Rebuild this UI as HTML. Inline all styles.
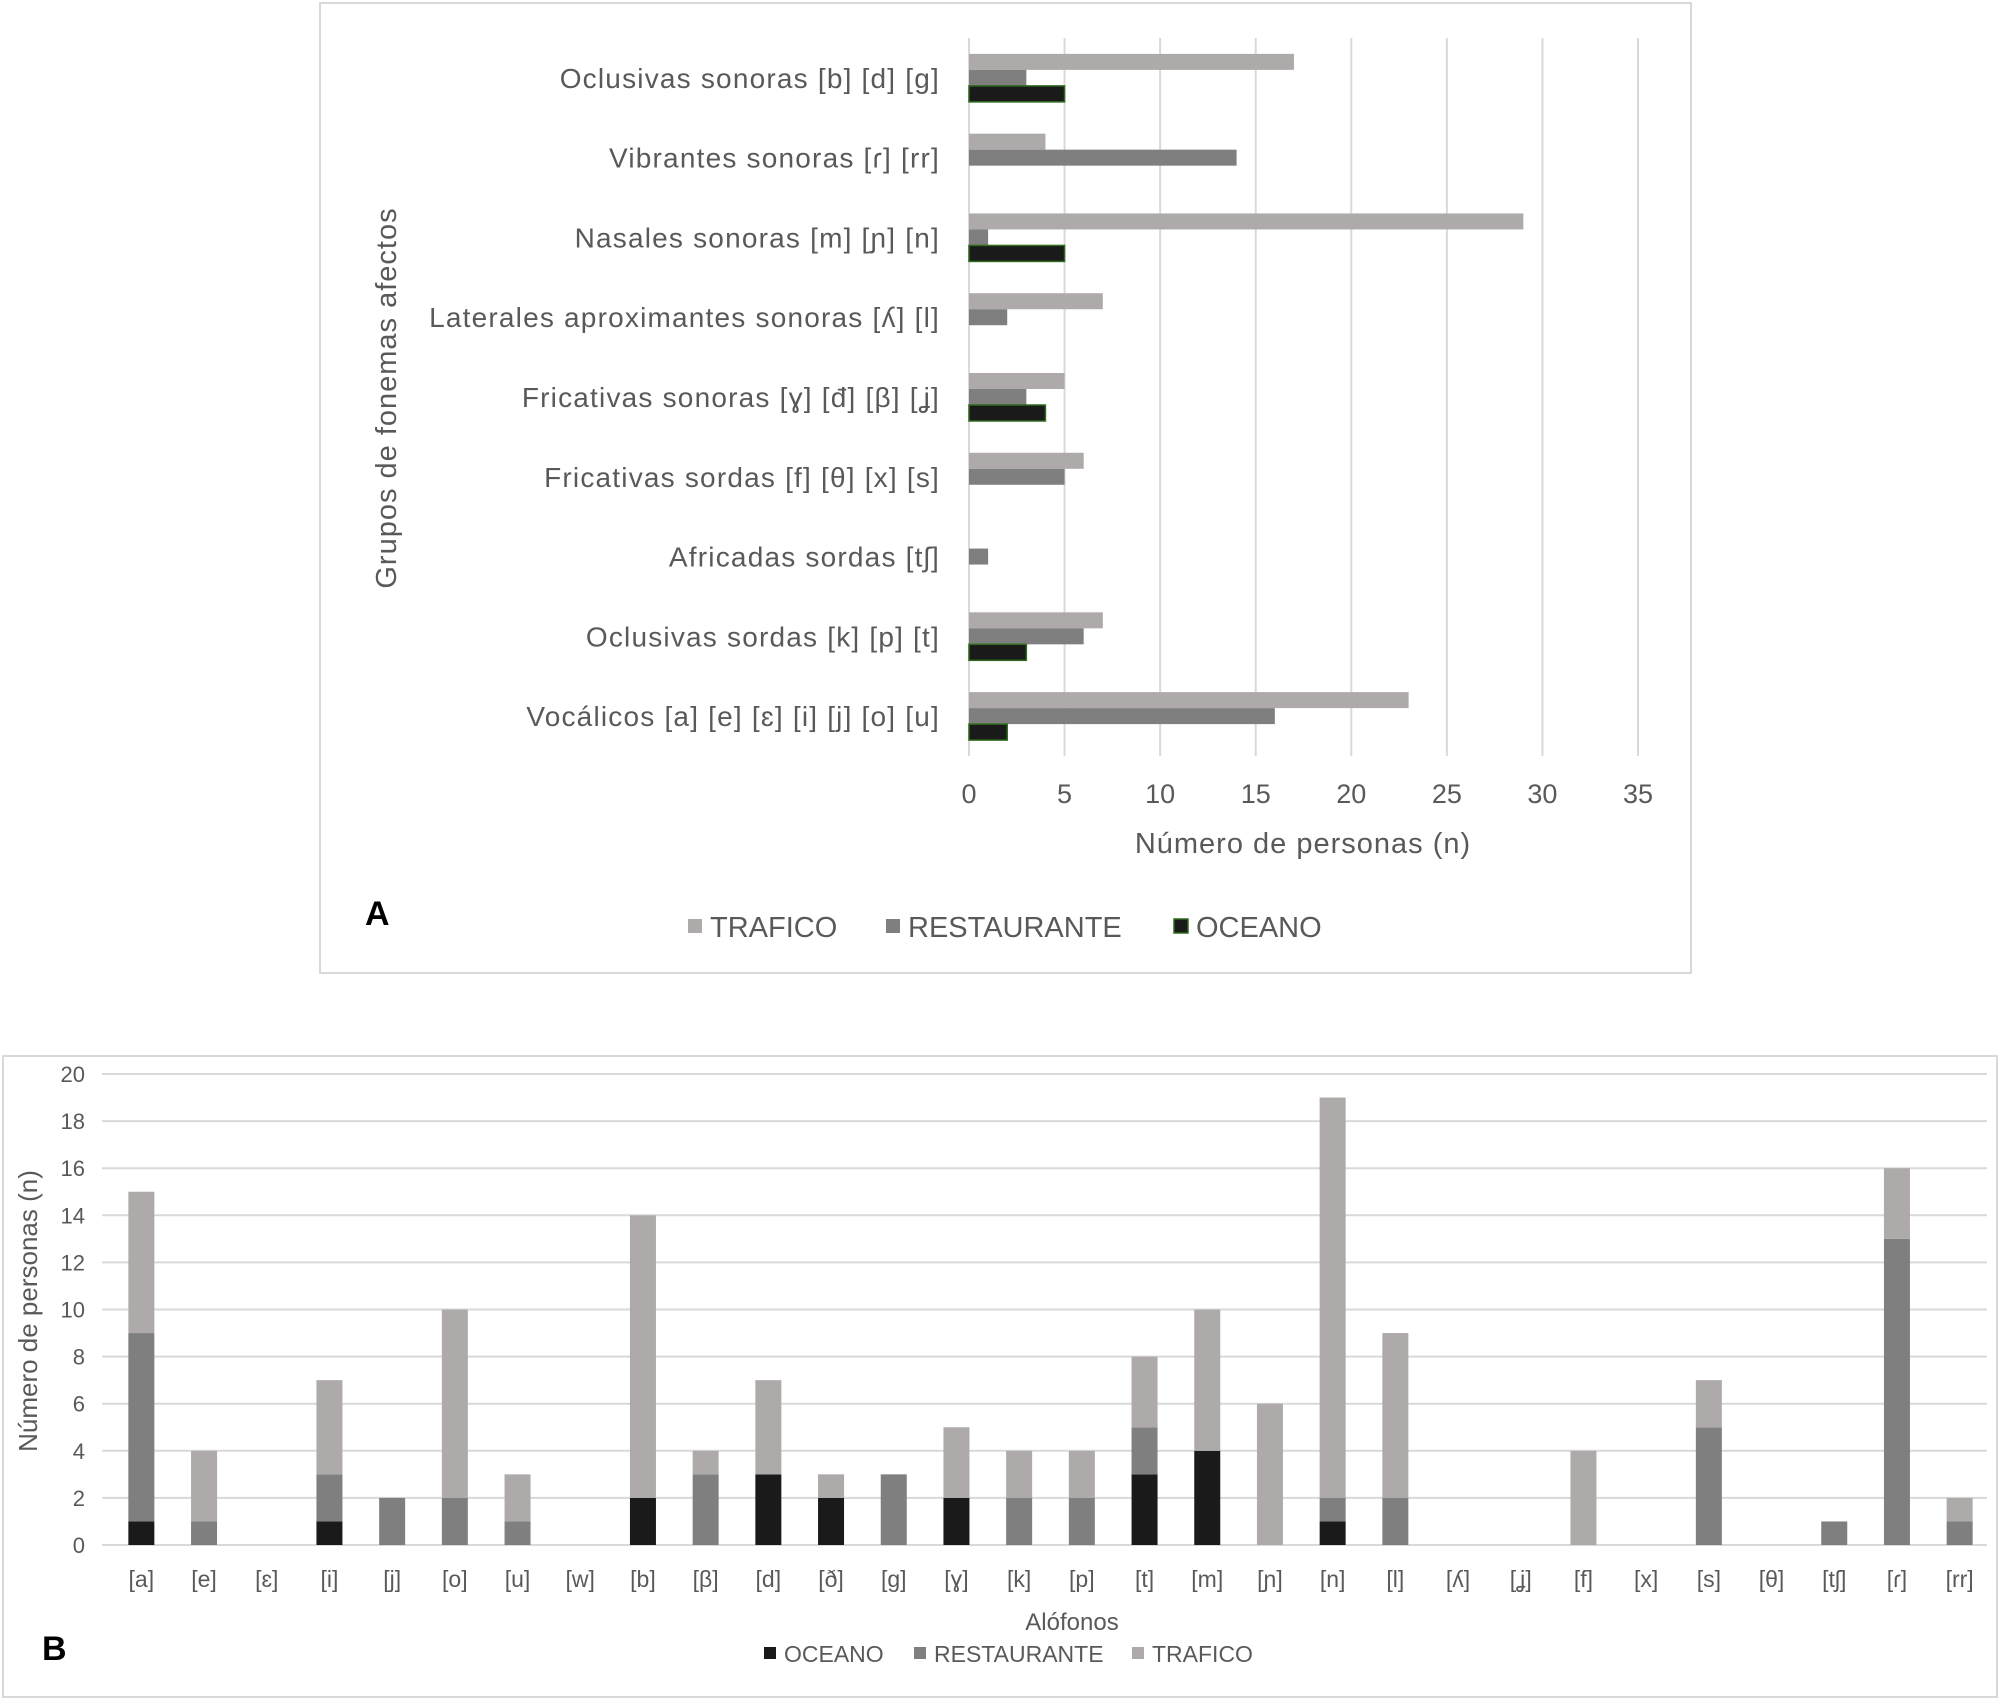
<!DOCTYPE html>
<html><head><meta charset="utf-8"><style>
body{margin:0;background:#fff;}
svg{display:block;font-family:"Liberation Sans","DejaVu Sans",sans-serif;}
</style></head><body>
<svg id="s" width="2000" height="1700" viewBox="0 0 2000 1700">
<rect x="320" y="3" width="1371" height="970" fill="#fff" stroke="#d9d9d9" stroke-width="2"/>
<rect x="3" y="1056" width="1994" height="641" fill="#fff" stroke="#d9d9d9" stroke-width="2"/>
<g id="ga"></g>
<g id="gb"></g>
</svg>
<script>
const aCategories=["Oclusivas sonoras  [b] [d] [g]","Vibrantes sonoras [ɾ] [rr]","Nasales sonoras [m] [ɲ] [n]","Laterales aproximantes sonoras  [ʎ] [l]","Fricativas sonoras [ɣ] [đ] [β] [ʝ]","Fricativas sordas  [f] [θ] [x] [s]","Africadas sordas [tʃ]","Oclusivas sordas [k] [p] [t]","Vocálicos  [a] [e] [ɛ] [i] [j] [o] [u]"];
const aTrafico=[17,4,29,7,5,6,0,7,23];
const aRestaurante=[3,14,1,2,3,5,1,6,16];
const aOceano=[5,0,5,0,4,0,0,3,2];
const aTicks=[0,5,10,15,20,25,30,35];

const bCategories=["[a]","[e]","[ɛ]","[i]","[j]","[o]","[u]","[w]","[b]","[β]","[d]","[ð]","[g]","[ɣ]","[k]","[p]","[t]","[m]","[ɲ]","[n]","[l]","[ʎ]","[ʝ]","[f]","[x]","[s]","[θ]","[tʃ]","[ɾ]","[rr]"];
const bOceano=[1,0,0,1,0,0,0,0,2,0,3,2,0,2,0,0,3,4,0,1,0,0,0,0,0,0,0,0,0,0];
const bRestaurante=[8,1,0,2,2,2,1,0,0,3,0,0,3,0,2,2,2,0,0,1,2,0,0,0,0,5,0,1,13,1];
const bTrafico=[6,3,0,4,0,8,2,0,12,1,4,1,0,3,2,2,3,6,6,17,7,0,0,4,0,2,0,0,3,1];
const bTicks=[0,2,4,6,8,10,12,14,16,18,20];

const NS="http://www.w3.org/2000/svg";
const C_T="#aeaaaa",C_R="#7f7f7f",C_O="#1a1a1a",TXT="#595959";
function mk(p,tag,at,txt){const e=document.createElementNS(NS,tag);for(const k in at)e.setAttribute(k,at[k]);if(txt!==undefined)e.textContent=txt;p.appendChild(e);return e;}

// Chart A
const ga=document.getElementById('ga');
const ax0=969,ax1=1638,aMax=35,ay0=38,ay1=756;
const xA=v=>ax0+(ax1-ax0)*v/aMax;
const band=(ay1-ay0)/aCategories.length;
aTicks.forEach(t=>{
 if(t>0){const l=mk(ga,'line',{x1:xA(t),x2:xA(t),y1:ay0,y2:ay1,stroke:'#d9d9d9','stroke-width':2});
 
 }
 const tx=mk(ga,'text',{x:xA(t),y:803,'text-anchor':'middle','font-size':27,fill:TXT},t);
 
 
});
const axl=mk(ga,'line',{x1:ax0,x2:ax0,y1:ay0,y2:ay1,stroke:'#d9d9d9','stroke-width':2});


const bh=16;
aCategories.forEach((c,i)=>{
 const cy=ay0+band*(i+0.5);
 const lb=mk(ga,'text',{x:940,y:cy+10,'text-anchor':'end','font-size':28,'letter-spacing':1.2,fill:TXT},c);
 
 
 [[aTrafico,C_T,'trafico',null],[aRestaurante,C_R,'restaurante',null],[aOceano,C_O,'oceano','#2e6b1e']].forEach((s,j)=>{
  const v=s[0][i]; if(v<=0)return;
  const r=mk(ga,'rect',{x:ax0,y:cy-1.5*bh+j*bh,width:xA(v)-ax0,height:bh,fill:s[1]});
  if(s[3]){r.setAttribute('stroke',s[3]);r.setAttribute('stroke-width',1.5);}
  
  
 });
});
mk(ga,'text',{x:1303,y:853,'text-anchor':'middle','font-size':29,'letter-spacing':1,fill:TXT,},'Número de personas (n)');
mk(ga,'text',{x:396,y:398,'text-anchor':'middle','font-size':29,'letter-spacing':1,fill:TXT,transform:'rotate(-90 396 398)',},'Grupos de fonemas afectos');
mk(ga,'text',{x:365,y:925,'font-size':34,'font-weight':'bold',fill:'#000',},'A');
[[688,'TRAFICO',C_T,null],[886,'RESTAURANTE',C_R,null],[1174,'OCEANO',C_O,'#2e6b1e']].forEach(L=>{
 const g=mk(ga,'g',{});
 
 
 const r=mk(g,'rect',{x:L[0],y:919,width:14,height:14,fill:L[2]});
 if(L[3]){r.setAttribute('stroke',L[3]);r.setAttribute('stroke-width',1.5);}
 mk(g,'text',{x:L[0]+22,y:937,'font-size':29,fill:TXT},L[1]);
});

// Chart B
const gb=document.getElementById('gb');
const gx0=102,gx1=1987;
const bx0=110,bx1=1991,by0=1545,by1=1074,bMax=20;
const yB=v=>by0-(by0-by1)*v/bMax;
const bw=(bx1-bx0)/bCategories.length;
bTicks.forEach(t=>{
 const l=mk(gb,'line',{x1:gx0,x2:gx1,y1:yB(t),y2:yB(t),stroke:'#d9d9d9','stroke-width':2});
 
 
 const tx=mk(gb,'text',{x:85,y:yB(t)+8,'text-anchor':'end','font-size':22,fill:TXT},t);
 
 
});
bCategories.forEach((c,i)=>{
 const cx=bx0+bw*(i+0.5);
 const lb=mk(gb,'text',{x:cx,y:1587,'text-anchor':'middle','font-size':23,fill:TXT},c);
 
 
 let base=0;
 [[bOceano,C_O,'oceano'],[bRestaurante,C_R,'restaurante'],[bTrafico,C_T,'trafico']].forEach(s=>{
  const v=s[0][i]; if(v<=0)return;
  const r=mk(gb,'rect',{x:cx-13,y:yB(base+v),width:26,height:yB(base)-yB(base+v),fill:s[1]});
  
  
  base+=v;
 });
});
mk(gb,'text',{x:1072,y:1630,'text-anchor':'middle','font-size':24,fill:TXT,},'Alófonos');
mk(gb,'text',{x:37,y:1311,'text-anchor':'middle','font-size':26,fill:TXT,transform:'rotate(-90 37 1311)',},'Número de personas (n)');
mk(gb,'text',{x:42,y:1660,'font-size':34,'font-weight':'bold',fill:'#000',},'B');
[[764,'OCEANO',C_O],[914,'RESTAURANTE',C_R],[1132,'TRAFICO',C_T]].forEach(L=>{
 const g=mk(gb,'g',{});
 
 
 mk(g,'rect',{x:L[0],y:1647,width:12,height:12,fill:L[2]});
 mk(g,'text',{x:L[0]+20,y:1662,'font-size':23,fill:TXT},L[1]);
});
</script>
</body></html>
